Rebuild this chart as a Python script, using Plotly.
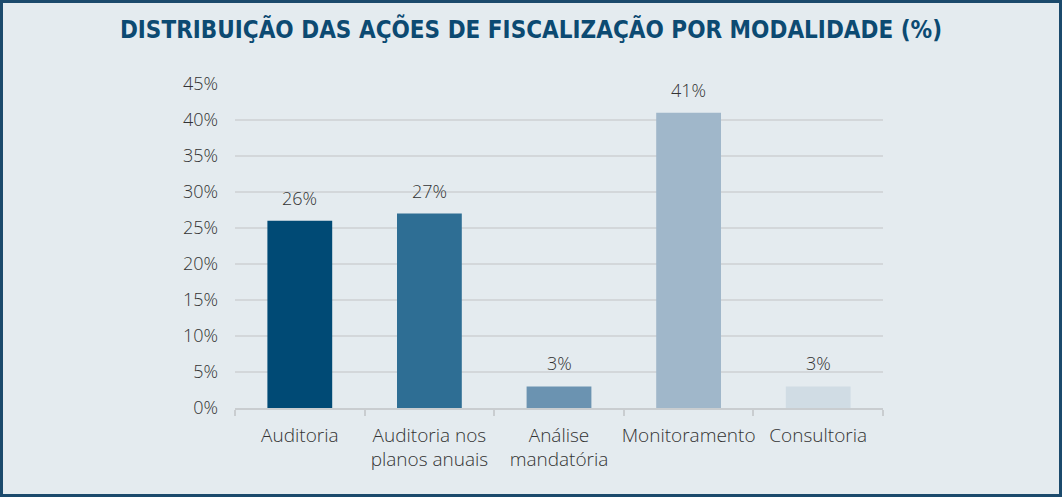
import plotly.graph_objects as go

categories = ["Auditoria", "Auditoria nos<br>planos anuais", "Análise<br>mandatória", "Monitoramento", "Consultoria"]
values = [26, 27, 3, 41, 3]
bar_colors = ["#004a75", "#2e6e94", "#6b93b1", "#a0b7ca", "#d0dce4"]
title_text = "DISTRIBUIÇÃO DAS AÇÕES DE FISCALIZAÇÃO POR MODALIDADE (%)"

W, H = 1062, 497
L, R, T, B = 235, 883, 84, 408
pw, ph = R - L, B - T

txt_color = "#333333"
lab_font = dict(family="Open Sans", size=18, color=txt_color, weight=300)
ytick_font = dict(family="Open Sans", size=18, color=txt_color, weight=300)
xtick_font = dict(family="Open Sans", size=19, color=txt_color, weight=300)

fig = go.Figure(go.Bar(
    x=categories, y=values,
    marker=dict(color=bar_colors, line=dict(width=0)),
    cliponaxis=False,
    hoverinfo="skip",
))

annotations = [dict(x=c, y=v, xref="x", yref="y", text=f"{v}%", showarrow=False,
                    yanchor="bottom", yshift=9, font=lab_font)
               for c, v in zip(categories, values)]

bg = "#e4ebef"
fig.update_layout(
    width=W, height=H,
    margin=dict(l=L, r=W - R, t=T, b=H - B, pad=0, autoexpand=False),
    paper_bgcolor=bg, plot_bgcolor=bg,
    bargap=0.5,
    showlegend=False,
    title=dict(text="<b>" + title_text + "</b>", x=0.5, xref="container", xanchor="center",
               y=1 - 30 / H, yref="container", yanchor="middle",
               font=dict(family="DejaVu Sans Condensed", size=24, color="#0c4a72")),
    font=lab_font,
    annotations=annotations,
    xaxis=dict(type="category", showline=True, linecolor="#c9cdd0", linewidth=1.5,
               ticks="outside", tickson="boundaries", ticklen=6, tickcolor="#c9cdd0",
               tickwidth=1.5, showgrid=False, tickfont=xtick_font, ticklabelstandoff=9,
               tickangle=0, automargin=False),
    yaxis=dict(range=[0, 45], dtick=5, ticksuffix="%", showgrid=True,
               gridcolor="#d3d7da", gridwidth=1.5, zeroline=False, showline=False,
               ticks="", ticklabelstandoff=16, tickfont=ytick_font, automargin=False),
    shapes=[dict(type="rect", xref="paper", yref="paper",
                 x0=(1.5 - L) / pw, x1=(W - 1.5 - L) / pw,
                 y0=(B - (H - 1.5)) / ph, y1=(B - 1.5) / ph,
                 line=dict(color="#1b4a6c", width=3), fillcolor="rgba(0,0,0,0)",
                 layer="above")],
)

fig.write_html("out.html", config={"displayModeBar": False},
               post_script="document.body.style.margin='0';document.body.style.overflow='hidden';")
